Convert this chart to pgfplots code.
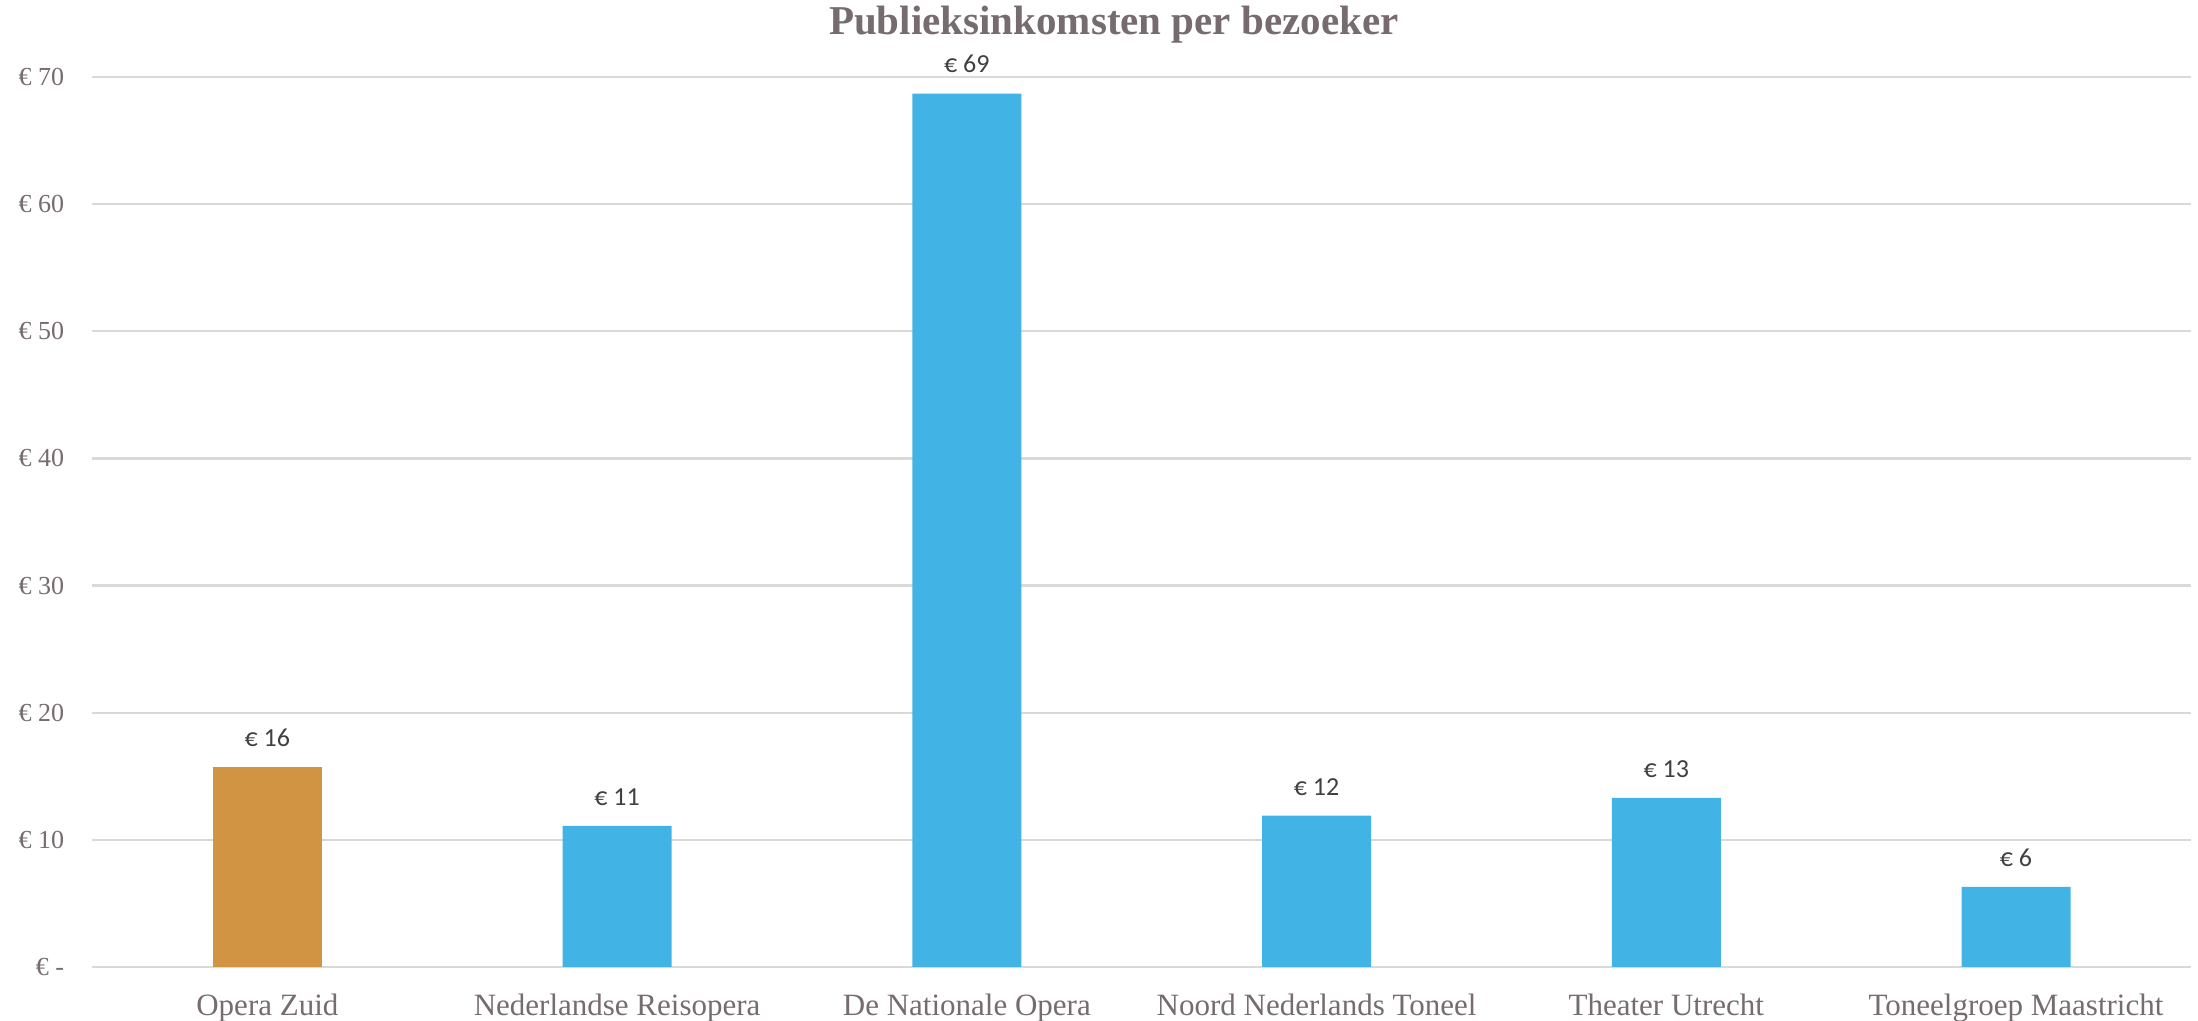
\documentclass[border=0pt]{standalone}
\usepackage{fontspec}
\setmainfont{Liberation Serif}
\newfontfamily\labelfont{Carlito}
\usepackage{pgfplots}
\pgfplotsset{compat=1.18}
\definecolor{txtgray}{HTML}{766B6E}
\definecolor{gridgray}{HTML}{D9D9D9}
\definecolor{barblue}{HTML}{41B4E5}
\definecolor{barorange}{HTML}{D19443}
\definecolor{lblgray}{HTML}{404040}
\begin{document}
\begin{tikzpicture}
\path[use as bounding box] (-46.25pt,-27pt) rectangle (1052.75pt,483.5pt);
\begin{axis}[
  at={(0pt,0pt)}, anchor=south west,
  scale only axis,
  width=1049.25pt, height=445pt,
  xmin=-0.5, xmax=5.5,
  ymin=0, ymax=70,
  bar shift=0pt,
  bar width=54.5pt,
  axis line style={draw=none},
  ymajorgrids,
  major grid style={color=gridgray, line width=1.2pt},
  major tick length=0pt,
  xtick={0,1,2,3,4,5},
  xticklabels={Opera Zuid, Nederlandse Reisopera, De Nationale Opera, Noord Nederlands Toneel, Theater Utrecht, Toneelgroep Maastricht},
  xticklabel style={font=\fontsize{15.5}{18}\selectfont, text=txtgray, anchor=base, inner sep=0pt, yshift=-24.4pt},
  ytick={0,10,20,30,40,50,60,70},
  yticklabels={€ -, € 10, € 20, € 30, € 40, € 50, € 60, € 70},
  yticklabel style={font=\fontsize{13}{15}\selectfont, text=txtgray, anchor=east, inner sep=0pt, xshift=-14pt},
  title={Publieksinkomsten per bezoeker},
  title style={font=\fontsize{20.5}{24}\selectfont\bfseries, text=txtgray, at={(0.4867,1)}, anchor=base, inner sep=0pt, yshift=15.3pt},
  /pgf/number format/assume math mode=true,
  nodes near coords={€ \pgfmathprintnumber[fixed,precision=0]{\pgfplotspointmeta}},
  nodes near coords style={font=\labelfont\fontsize{13}{15}\selectfont, text=lblgray, anchor=south, inner sep=0pt, yshift=10pt},
]
\addplot[ybar, fill=barorange, draw=none] coordinates {(0,15.7)};
\addplot[ybar, fill=barblue, draw=none] coordinates {(1,11.1) (2,68.7) (3,11.9) (4,13.3) (5,6.3)};
\end{axis}
\end{tikzpicture}
\end{document}
